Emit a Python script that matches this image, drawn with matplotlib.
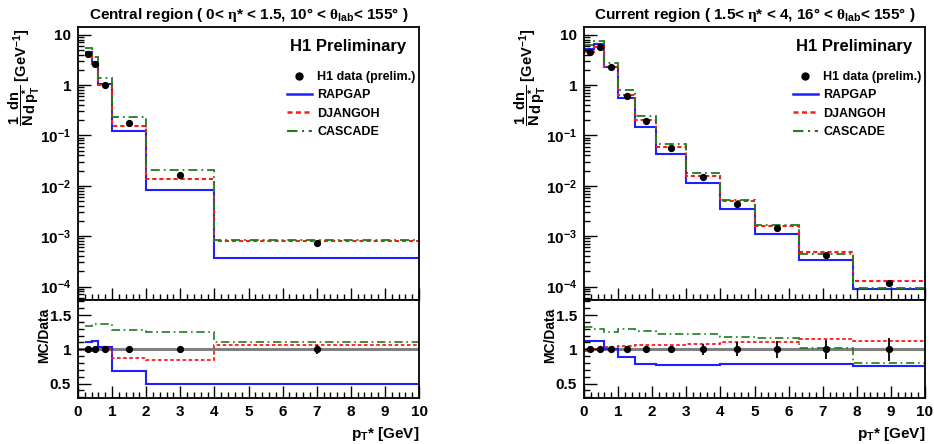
import numpy as np
import matplotlib
matplotlib.use("Agg")
import matplotlib.pyplot as plt
from matplotlib.ticker import FixedLocator, MultipleLocator, LogLocator, NullFormatter, FuncFormatter
from matplotlib.lines import Line2D

plt.rcParams['font.family'] = 'Liberation Sans'
plt.rcParams['font.weight'] = 'bold'
plt.rcParams['mathtext.fontset'] = 'custom'
plt.rcParams['mathtext.rm'] = 'Liberation Sans:bold'
plt.rcParams['mathtext.bf'] = 'Liberation Sans:bold'
plt.rcParams['mathtext.it'] = 'Liberation Serif'

# central region
c_edges = [0.2, 0.4, 0.6, 1.0, 2.0, 4.0, 10.0]
c_x = [0.3, 0.5, 0.8, 1.5, 3.0, 7.0]
c_data = [4.1, 2.6, 1.0, 0.178, 0.0163, 7.4e-4]
c_err = [0.02, 0.02, 0.02, 0.02, 0.05, 0.07]   # relative
c_rapgap = [4.51, 2.91, 1.03, 0.123, 0.00815, 3.63e-4]
c_djangoh = [3.98, 2.63, 1.01, 0.155, 0.01386, 7.92e-4]
c_cascade = [5.49, 3.56, 1.37, 0.228, 0.0204, 8.21e-4]

# current region
r_edges = [0.0, 0.3, 0.6, 1.0, 1.5, 2.1, 3.0, 4.0, 5.0, 6.3, 7.9, 10.0]
r_x = [0.17, 0.46, 0.8, 1.26, 1.81, 2.56, 3.5, 4.5, 5.65, 7.1, 8.95]
r_data = [4.6, 5.75, 2.24, 0.61, 0.19, 0.055, 0.0147, 0.0044, 0.00143, 4.3e-4, 1.17e-4]
r_err = [0.02, 0.02, 0.02, 0.02, 0.03, 0.04, 0.08, 0.10, 0.12, 0.14, 0.17]
r_rapgap = [5.15, 6.44, 2.26, 0.543, 0.150, 0.0426, 0.01132, 0.00343, 0.001115, 3.35e-4, 8.78e-5]
r_djangoh = [4.51, 5.81, 2.33, 0.641, 0.201, 0.0583, 0.01588, 0.00488, 0.001587, 4.95e-4, 1.31e-4]
r_cascade = [6.12, 7.48, 2.80, 0.793, 0.241, 0.0671, 0.01808, 0.00519, 0.001659, 4.36e-4, 9.36e-5]

titles = [r"Central region ( 0< $\eta$* < 1.5, 10° < $\theta_{\mathrm{lab}}$< 155° )",
          r"Current region ( 1.5< $\eta$* < 4, 16° < $\theta_{\mathrm{lab}}$< 155° )"]

BLUE = '#1f1fff'
RED = '#ff1a1a'
GREEN = '#1e7d1e'
red_ls = (0, (2, 1.4))
green_ls = (0, (5, 2.2, 1, 2.2))

def logfmt(v, pos):
    if abs(v - 10) < 1e-9:
        return '10'
    if abs(v - 1) < 1e-9:
        return '1'
    e = int(round(np.log10(v)))
    return r'$\mathrm{10^{%d}}$' % e

fig = plt.figure(figsize=(9.34, 4.44), dpi=100)

panels = [(c_edges, c_x, c_data, c_err, c_rapgap, c_djangoh, c_cascade),
          (r_edges, r_x, r_data, r_err, r_rapgap, r_djangoh, r_cascade)]
lefts = [78 / 934, 584 / 934]
w = 341 / 934

for i, (edges, xs, data, err, rap, dja, cas) in enumerate(panels):
    data = np.array(data)
    err = np.array(err)
    ax = fig.add_axes([lefts[i], 0.3243, w, 0.6149])
    axr = fig.add_axes([lefts[i], 0.1036, w, 0.2207], sharex=ax)

    ax.stairs(rap, edges, color=BLUE, lw=1.5, baseline=None)
    ax.stairs(dja, edges, color=RED, lw=1.5, ls=red_ls, baseline=None)
    ax.stairs(cas, edges, color=GREEN, lw=1.3, ls=green_ls, baseline=None)
    ax.errorbar(xs, data, yerr=data * err, fmt='o', color='black', ms=4.2, elinewidth=1.3, capsize=0, zorder=5)

    ax.set_yscale('log')
    ax.set_ylim(5.4e-5, 14.2)
    ax.set_xlim(0, 10)
    ax.yaxis.set_major_locator(LogLocator(base=10, numticks=20))
    ax.yaxis.set_minor_locator(LogLocator(base=10, subs=np.arange(2, 10), numticks=20))
    ax.yaxis.set_major_formatter(FuncFormatter(logfmt))
    ax.yaxis.set_minor_formatter(NullFormatter())
    ax.tick_params(axis='x', labelbottom=False)

    ax.set_title(titles[i], fontsize=11, fontweight='bold', pad=6)
    ax.text(0.793, 0.927, 'H1 Preliminary', transform=ax.transAxes, ha='center', va='center',
            fontsize=12, fontweight='bold')

    handles = [Line2D([], [], color='black', marker='o', ls='none', ms=5),
               Line2D([], [], color=BLUE, lw=1.8),
               Line2D([], [], color=RED, lw=1.8, ls=red_ls),
               Line2D([], [], color=GREEN, lw=1.5, ls=green_ls)]
    labels = ['H1 data (prelim.)', 'RAPGAP', 'DJANGOH', 'CASCADE']
    ax.legend(handles, labels, loc='upper left', bbox_to_anchor=(0.612, 0.838), frameon=False,
              handlelength=2.0, handletextpad=0.45, labelspacing=0.5,
              borderpad=0, borderaxespad=0, prop={'weight': 'bold', 'size': 9})

    # ratio panel
    axr.axhline(1.0, color='#808080', lw=2.2, zorder=1)
    axr.stairs(np.array(rap) / data, edges, color=BLUE, lw=1.5, baseline=None)
    axr.stairs(np.array(dja) / data, edges, color=RED, lw=1.3, ls=red_ls, baseline=None)
    axr.stairs(np.array(cas) / data, edges, color=GREEN, lw=1.2, ls=green_ls, baseline=None)
    axr.errorbar(xs, np.ones(len(xs)), yerr=err, fmt='o', color='black', ms=4.2, elinewidth=1.3, capsize=0, zorder=5)
    axr.set_ylim(0.29, 1.72)
    axr.set_xlim(0, 10)
    axr.yaxis.set_major_locator(FixedLocator([0.5, 1.0, 1.5]))
    axr.yaxis.set_major_formatter(FuncFormatter(lambda v, p: '1' if abs(v - 1) < 1e-9 else '%.1f' % v))
    axr.yaxis.set_minor_locator(MultipleLocator(0.1))
    axr.xaxis.set_major_locator(MultipleLocator(1))
    axr.xaxis.set_minor_locator(MultipleLocator(0.2))

    for a in (ax, axr):
        a.tick_params(which='both', direction='in', top=False, right=False, labelsize=11, width=1.0)
        a.tick_params(which='major', length=9, pad=5)
        a.tick_params(which='minor', length=4.5)
        for s in a.spines.values():
            s.set_linewidth(1.3)
        for lab in a.get_xticklabels() + a.get_yticklabels():
            lab.set_fontweight('bold')

    axr.set_xlabel(r'$\mathrm{p}_{\mathrm{T}}$* [GeV]', fontsize=11, fontweight='bold', loc='right', labelpad=4)
    x0 = lefts[i] * 934
    fig.text((x0 - 54) / 934, 1 - 29 / 444,
             r'$\dfrac{\mathrm{1}}{\mathrm{N}}\dfrac{\mathrm{dn}}{\mathrm{d\,p}_{\mathrm{T}}^{*}}$ [GeV$^{\mathrm{-1}}$]',
             rotation=90, ha='center', va='top', fontsize=10.5, fontweight='bold')
    fig.text((x0 - 34) / 934, 1 - 308 / 444, 'MC/Data', rotation=90, ha='center', va='top',
             fontsize=10, fontweight='bold')

fig.savefig('out.png', dpi=100)
